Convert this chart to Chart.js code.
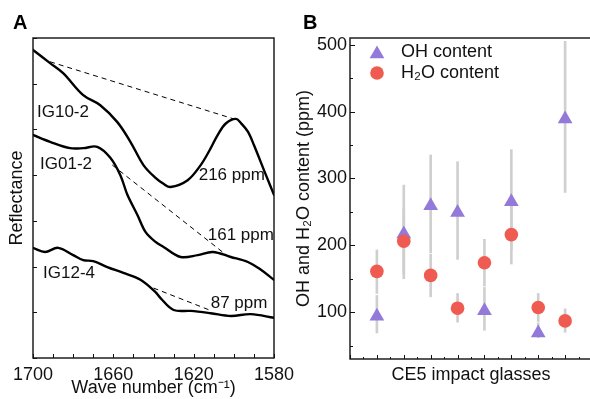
<!DOCTYPE html>
<html>
<head>
<meta charset="utf-8">
<script src="https://cdn.jsdelivr.net/npm/chart.js@4.4.1/dist/chart.umd.min.js"></script>
<style>
  html, body { margin: 0; padding: 0; background: #fff; overflow: hidden; }
  #wrap { position: relative; width: 590px; height: 399px; overflow: hidden; }
  #chartA { position: absolute; left: 0; top: 0; }
  #chartB { position: absolute; left: 290px; top: 0; }
</style>
</head>
<body>
<div id="wrap">
  <canvas id="chartA" width="300" height="399"></canvas>
  <canvas id="chartB" width="302" height="399"></canvas>
</div>
<script>
// ---------- Panel A: reflectance spectra ----------
const ig10Wave = [1700, 1691.5, 1685, 1675, 1666.5, 1658, 1651.5, 1645, 1639, 1635, 1631.5, 1623, 1616.5, 1612, 1608, 1604, 1599, 1596.5, 1593, 1590, 1584, 1580];
const ig10Refl = [6.74, 6.45, 6.23, 5.75, 5.53, 5.16, 4.73, 4.22, 3.94, 3.81, 3.74, 3.89, 4.22, 4.55, 4.88, 5.13, 5.23, 5.14, 4.95, 4.66, 4.00, 3.57];

const ig01Wave = [1700, 1691.5, 1681.5, 1675, 1668, 1661.5, 1656.5, 1653, 1648, 1644, 1639, 1635, 1626.5, 1618, 1610.5, 1601.5, 1593, 1586.5, 1580];
const ig01Refl = [4.88, 4.73, 4.59, 4.59, 4.62, 4.38, 4.00, 3.57, 3.13, 2.76, 2.54, 2.43, 2.21, 2.25, 2.32, 2.21, 2.10, 1.93, 1.71];

const ig12Wave = [1700, 1694, 1687.5, 1680, 1675, 1670, 1663, 1655, 1646.5, 1639, 1636.5, 1630, 1621.5, 1611.5, 1601.5, 1591.5, 1580];
const ig12Refl = [2.41, 2.32, 2.41, 2.25, 2.14, 2.12, 1.99, 1.86, 1.71, 1.44, 1.31, 1.05, 1.03, 0.98, 0.92, 0.96, 0.88];

// baselines (start, end)
const ig10BaseWave = [1691.5, 1600];
const ig10BaseRefl = [6.48, 5.23];
const ig01BaseWave = [1660.5, 1602.5];
const ig01BaseRefl = [4.22, 2.21];
const ig12BaseWave = [1640, 1611];
const ig12BaseRefl = [1.53, 1.03];

const xTicksA = [1580, 1590, 1600, 1610, 1620, 1630, 1640, 1650, 1660, 1670, 1680, 1690, 1700];
const xLabelsA = [1580, 1620, 1660, 1700];
const yTicksA = [0, 1, 2, 3, 4, 5, 6, 7];

const labelTextA = ['IG10-2', 'IG01-2', 'IG12-4', '216 ppm', '161 ppm', '87 ppm'];
const labelWaveA = [1698, 1696.5, 1695, 1617.5, 1613, 1611.5];
const labelReflA = [5.38, 4.24, 1.86, 4.00, 2.69, 1.20];

// ---------- Panel B: OH and H2O content ----------
const glassIndex = [1, 2, 3, 4, 5, 6, 7, 8];
const ohContent = [94, 217, 259, 249, 102, 265, 69, 389];
const ohLow = [69, 150, 189, 179, 73, 193, 62, 279];
const ohHigh = [125, 290, 335, 325, 137, 343, 84, 505];
const h2oContent = [161, 206, 155, 106, 174, 216, 107, 87];
const h2oLow = [128, 157, 123, 85, 139, 172, 86, 70];
const h2oHigh = [193, 255, 187, 128, 209, 260, 128, 105];

const xTicksB = [0, 0.5, 1, 1.5, 2, 2.5, 3, 3.5, 4, 4.5, 5, 5.5, 6, 6.5, 7, 7.5, 8, 8.5, 9];
const yTicksB = [50, 100, 150, 200, 250, 300, 350, 400, 450, 500];

const FONT = 'Liberation Sans, Arial, Helvetica, sans-serif';
const PURPLE = '#9379da';
const RED = '#ef5b50';
const BAR_GREY = '#cfcfcf';

Chart.defaults.font.family = FONT;
Chart.defaults.color = '#111';

function toXY(xs, ys) {
    return xs.map(function (x, i) { return { x: x, y: ys[i] }; });
}

// frame + inward tick marks
function framePlugin(lenX, lenY) {
    return {
        id: 'frame',
        afterDraw: function (chart) {
            const ctx = chart.ctx;
            const a = chart.chartArea;
            ctx.save();
            ctx.strokeStyle = '#111';
            ctx.lineWidth = 1;
            const sx = chart.scales.x;
            sx.ticks.forEach(function (t) {
                const p = Math.round(sx.getPixelForValue(t.value)) + 0.5;
                ctx.beginPath();
                ctx.moveTo(p, a.bottom);
                ctx.lineTo(p, a.bottom - lenX(t.value));
                ctx.stroke();
            });
            const sy = chart.scales.y;
            sy.ticks.forEach(function (t) {
                const p = Math.round(sy.getPixelForValue(t.value)) + 0.5;
                ctx.beginPath();
                ctx.moveTo(a.left, p);
                ctx.lineTo(a.left + lenY(t.value), p);
                ctx.stroke();
            });
            ctx.lineWidth = 1.4;
            ctx.strokeRect(a.left, a.top, a.right - a.left, a.bottom - a.top);
            ctx.restore();
        }
    };
}

function panelLetter(text, x, y) {
    return {
        id: 'letter',
        afterDraw: function (chart) {
            const ctx = chart.ctx;
            ctx.save();
            ctx.font = 'bold 20px ' + FONT;
            ctx.fillStyle = '#000';
            ctx.textBaseline = 'middle';
            ctx.fillText(text, x, y);
            ctx.restore();
        }
    };
}

// ==========================================
// A - spectra
// ==========================================
const curveStyle = { borderColor: '#000', borderWidth: 2.4, pointRadius: 0, tension: 0.35, fill: false, borderCapStyle: 'round' };
const dashStyle = { borderColor: '#000', borderWidth: 1, pointRadius: 0, borderDash: [5, 4], fill: false };

const labelsPlugin = {
    id: 'curveLabels',
    afterDatasetsDraw: function (chart) {
        const ctx = chart.ctx;
        const sx = chart.scales.x, sy = chart.scales.y;
        ctx.save();
        ctx.font = '17px ' + FONT;
        ctx.fillStyle = '#111';
        ctx.textBaseline = 'middle';
        labelTextA.forEach(function (txt, i) {
            ctx.fillText(txt, sx.getPixelForValue(labelWaveA[i]), sy.getPixelForValue(labelReflA[i]));
        });
        ctx.restore();
    }
};

new Chart(document.getElementById('chartA'), {
    type: 'line',
    data: {
        datasets: [
            Object.assign({ label: 'IG10-2', data: toXY(ig10Wave, ig10Refl) }, curveStyle),
            Object.assign({ label: 'IG01-2', data: toXY(ig01Wave, ig01Refl) }, curveStyle),
            Object.assign({ label: 'IG12-4', data: toXY(ig12Wave, ig12Refl) }, curveStyle),
            Object.assign({ label: 'base10', data: toXY(ig10BaseWave, ig10BaseRefl) }, dashStyle),
            Object.assign({ label: 'base01', data: toXY(ig01BaseWave, ig01BaseRefl) }, dashStyle),
            Object.assign({ label: 'base12', data: toXY(ig12BaseWave, ig12BaseRefl) }, dashStyle)
        ]
    },
    options: {
        responsive: false,
        animation: false,
        layout: { autoPadding: false, padding: { left: 0, right: 26, top: 38, bottom: 0 } },
        plugins: { legend: { display: false }, tooltip: { enabled: false } },
        scales: {
            x: {
                type: 'linear',
                min: 1580,
                max: 1700,
                reverse: true,
                grid: { display: false, drawTicks: false },
                border: { display: false },
                afterBuildTicks: function (s) { s.ticks = xTicksA.map(function (v) { return { value: v }; }); },
                afterFit: function (s) { s.height = 41; },
                ticks: {
                    padding: 6,
                    maxRotation: 0,
                    autoSkip: false,
                    font: { size: 18 },
                    color: '#111',
                    callback: function (v) { return xLabelsA.includes(v) ? String(v) : ''; }
                },
                title: { display: true, text: 'Wave number (cm⁻¹)', font: { size: 18 }, color: '#111', padding: { top: 0, bottom: 0 } }
            },
            y: {
                min: 0,
                max: 7,
                grid: { display: false, drawTicks: false },
                border: { display: false },
                afterBuildTicks: function (s) { s.ticks = yTicksA.map(function (v) { return { value: v }; }); },
                afterFit: function (s) { s.width = 33; },
                ticks: { display: false },
                title: { display: true, text: 'Reflectance', font: { size: 18 }, color: '#111', padding: { top: 6, bottom: 0 } }
            }
        }
    },
    plugins: [labelsPlugin, framePlugin(function () { return 4; }, function () { return 4; }), panelLetter('A', 13, 23)]
});

// ==========================================
// B - OH / H2O content
// ==========================================
const legendPlugin = {
    id: 'legendB',
    afterDraw: function (chart) {
        const ctx = chart.ctx;
        const items = [
            { text: 'OH content', style: 'triangle', color: PURPLE, radius: 8.5, y: 52 },
            { text: 'H₂O content', style: 'circle', color: RED, radius: 6.8, y: 73 }
        ];
        ctx.save();
        items.forEach(function (it) {
            ctx.fillStyle = it.color;
            ctx.strokeStyle = it.color;
            Chart.helpers.drawPoint(ctx, { pointStyle: it.style, radius: it.radius, borderWidth: 0, rotation: 0 }, 87, it.y + (it.style === 'triangle' ? 2 : 0));
            ctx.fillStyle = '#111';
            ctx.font = '18px ' + FONT;
            ctx.textBaseline = 'middle';
            ctx.fillText(it.text, 111, it.y);
        });
        ctx.restore();
    }
};

new Chart(document.getElementById('chartB'), {
    type: 'scatter',
    data: {
        datasets: [
            {
                type: 'bar',
                label: 'OH error',
                data: glassIndex.map(function (x, i) { return { x: x, y: [ohLow[i], ohHigh[i]] }; }),
                backgroundColor: BAR_GREY,
                barThickness: 2,
                grouped: false,
                borderWidth: 0,
                order: 3
            },
            {
                type: 'bar',
                label: 'H2O error',
                data: glassIndex.map(function (x, i) { return { x: x, y: [h2oLow[i], h2oHigh[i]] }; }),
                backgroundColor: BAR_GREY,
                barThickness: 2,
                grouped: false,
                borderWidth: 0,
                order: 3
            },
            {
                label: 'OH content',
                data: toXY(glassIndex, ohContent),
                pointStyle: 'triangle',
                pointRadius: 8.5,
                pointBorderWidth: 0,
                backgroundColor: PURPLE,
                borderColor: PURPLE,
                order: 1
            },
            {
                label: 'H₂O content',
                data: toXY(glassIndex, h2oContent),
                pointStyle: 'circle',
                pointRadius: 6.8,
                pointBorderWidth: 0,
                backgroundColor: RED,
                borderColor: RED,
                order: 0
            }
        ]
    },
    options: {
        responsive: false,
        animation: false,
        layout: { autoPadding: false, padding: { left: 0, right: 0, top: 38, bottom: 0 } },
        plugins: { legend: { display: false }, tooltip: { enabled: false } },
        scales: {
            x: {
                type: 'linear',
                min: 0,
                max: 9,
                offset: false,
                grid: { display: false, drawTicks: false, offset: false },
                border: { display: false },
                afterBuildTicks: function (s) { s.ticks = xTicksB.map(function (v) { return { value: v }; }); },
                afterFit: function (s) { s.height = 40; },
                ticks: { display: false },
                title: { display: true, text: 'CE5 impact glasses', font: { size: 18 }, color: '#111', padding: { top: 0, bottom: 13 } }
            },
            y: {
                min: 30,
                max: 510,
                grid: { display: false, drawTicks: false },
                border: { display: false },
                afterBuildTicks: function (s) { s.ticks = yTicksB.map(function (v) { return { value: v }; }); },
                afterFit: function (s) { s.width = 60; },
                ticks: {
                    padding: 3,
                    font: { size: 18 },
                    color: '#111',
                    callback: function (v) { return v % 100 === 0 ? String(v) : ''; }
                },
                title: { display: true, text: 'OH and H₂O content (ppm)', font: { size: 18 }, color: '#111', padding: { top: 3, bottom: 0 } }
            }
        }
    },
    plugins: [
        framePlugin(function (v) { return v % 1 === 0 ? 4 : 2; }, function (v) { return v % 100 === 0 ? 5 : 3; }),
        legendPlugin,
        panelLetter('B', 13, 23)
    ]
});
</script>
</body>
</html>
